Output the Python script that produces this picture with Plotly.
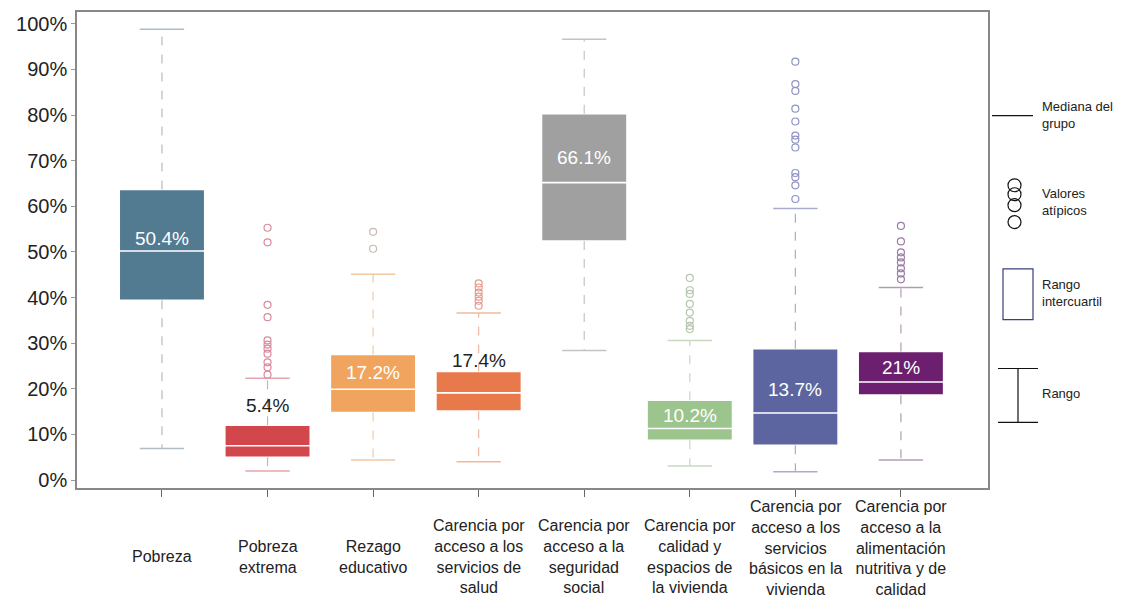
import plotly.graph_objects as go

# categories and box statistics (percent)
categories = [
    "Pobreza",
    "Pobreza<br>extrema",
    "Rezago<br>educativo",
    "Carencia por<br>acceso a los<br>servicios de<br>salud",
    "Carencia por<br>acceso a la<br>seguridad<br>social",
    "Carencia por<br>calidad y<br>espacios de<br>la vivienda",
    "Carencia por<br>acceso a los<br>servicios<br>básicos en la<br>vivienda",
    "Carencia por<br>acceso a la<br>alimentación<br>nutritiva y de<br>calidad",
]
lower_whisker = [6.9, 2.0, 4.4, 4.0, 28.4, 3.1, 1.8, 4.4]
q1 = [39.4, 5.0, 14.8, 15.1, 52.4, 8.7, 7.6, 18.6]
median = [50.2, 7.5, 19.9, 19.1, 65.2, 11.3, 14.7, 21.5]
q3 = [63.7, 12.0, 27.5, 23.8, 80.3, 17.5, 28.8, 28.2]
upper_whisker = [98.8, 22.3, 45.1, 36.6, 96.6, 30.6, 59.5, 42.2]
outliers = [
    [],
    [55.3, 52.1, 38.4, 35.7, 30.6, 29.7, 28.8, 27.7, 25.8, 24.7, 23.1],
    [54.4, 50.7],
    [43.1, 42.2, 41.1, 40.2, 39.3, 38.2],
    [],
    [44.3, 41.6, 40.8, 38.6, 36.7, 34.9, 33.8, 33.1],
    [91.7, 86.8, 85.3, 81.4, 78.6, 75.5, 74.6, 72.9, 67.3, 66.4, 64.6, 61.6],
    [55.7, 52.3, 49.9, 48.8, 47.7, 46.4, 45.3, 44.0],
]
value_labels = ["50.4%", "5.4%", "17.2%", "17.4%", "66.1%", "10.2%", "13.7%", "21%"]
y_ticks = [0, 10, 20, 30, 40, 50, 60, 70, 80, 90, 100]
y_tick_labels = ["0%", "10%", "20%", "30%", "40%", "50%", "60%", "70%", "80%", "90%", "100%"]

# styling
box_colors = ["#527a91", "#d1474c", "#f0a45e", "#e8794a", "#a0a0a0", "#9cc58e", "#5c65a0", "#6b1f6e"]
whisker_colors = ["#aebdc8", "#e3a6ac", "#f2c9a6", "#efb8a0", "#c4c4c4", "#c6d9bf", "#a9acd0", "#b59ab8"]
outlier_colors = ["#aebdc8", "#d98a9c", "#c9b9b4", "#e39a8c", "#c4c4c4", "#b6c7ae", "#8f93c4", "#9a7aa6"]
label_inside = [True, False, True, False, True, True, True, True]
label_shift = [13, 20, 17, 11, 25, 13, 23, 14]
FONT = "Liberation Sans, Arial, sans-serif"
XLAB_SIZE = 16

# the page body has an 8px margin, so the figure sits at (8, 8)
OFF = 8
W, H = 1140 - OFF, 603 - OFF
L, R, T, B = 77 - OFF, 152, 10 - OFF, 115
pw, ph = W - L - R, H - T - B


def px(x):
    # page pixel -> paper x
    return (x - OFF - L) / pw


def py(y):
    # page pixel -> paper y
    return (H - B - (y - OFF)) / ph


fig = go.Figure()

for i in range(len(categories)):
    fig.add_trace(go.Scatter(
        x=[i, i, None, i, i],
        y=[q1[i], lower_whisker[i], None, q3[i], upper_whisker[i]],
        mode="lines", line=dict(color=whisker_colors[i], width=1.2, dash="dash"),
        showlegend=False, hoverinfo="skip"))
    fig.add_trace(go.Scatter(
        x=[i - 0.21, i + 0.21, None, i - 0.21, i + 0.21],
        y=[upper_whisker[i], upper_whisker[i], None, lower_whisker[i], lower_whisker[i]],
        mode="lines", line=dict(color=whisker_colors[i], width=1.5),
        showlegend=False, hoverinfo="skip"))
    fig.add_trace(go.Box(
        x=[i], q1=[q1[i]], median=[median[i]], q3=[q3[i]],
        lowerfence=[q1[i]], upperfence=[q3[i]],
        width=0.81, fillcolor=box_colors[i],
        line=dict(color="white", width=1.6), boxpoints=False,
        showlegend=False, name=categories[i].replace("<br>", " ")))
    if outliers[i]:
        fig.add_trace(go.Scatter(
            x=[i] * len(outliers[i]), y=outliers[i], mode="markers",
            marker=dict(symbol="circle-open", size=7, color=outlier_colors[i], line=dict(width=1.2)),
            showlegend=False, hoverinfo="y"))
    if label_inside[i]:
        fig.add_annotation(x=i, y=median[i], text=value_labels[i], showarrow=False,
                           yshift=label_shift[i], font=dict(color="white", size=19, family=FONT))
    else:
        fig.add_annotation(x=i, y=q3[i], text=value_labels[i], showarrow=False,
                           yshift=label_shift[i], font=dict(color="#222", size=19, family=FONT))
    # category label, centred under the axis but kept inside the page
    n_lines = categories[i].count("<br>") + 1
    half = (n_lines * XLAB_SIZE * 1.3) / 2
    cy = min(557, 600 - half)
    fig.add_annotation(x=i, xref="x", y=py(cy), yref="paper", yanchor="middle",
                       text=categories[i], showarrow=False, align="center",
                       font=dict(color="#222", size=XLAB_SIZE, family=FONT))

# legend drawn on the right
lc = "#111"
ref = dict(xref="paper", yref="paper")
shapes = [
    dict(type="line", x0=px(992), x1=px(1033), y0=py(114), y1=py(114), line=dict(color=lc, width=1.2), **ref),
    dict(type="rect", x0=px(1003), x1=px(1033), y0=py(268), y1=py(319), line=dict(color="#3a3f7a", width=1.2), **ref),
    dict(type="line", x0=px(998), x1=px(1038), y0=py(368), y1=py(368), line=dict(color=lc, width=1.2), **ref),
    dict(type="line", x0=px(998), x1=px(1038), y0=py(422), y1=py(422), line=dict(color=lc, width=1.2), **ref),
    dict(type="line", x0=px(1018), x1=px(1018), y0=py(368), y1=py(422), line=dict(color=lc, width=1.2), **ref),
]
for cy in [184, 193, 204, 221]:
    shapes.append(dict(type="circle", x0=px(1008), x1=px(1021), y0=py(cy - 6.5), y1=py(cy + 6.5),
                       line=dict(color=lc, width=1.2), **ref))
for txt, y in [("Mediana del<br>grupo", 113), ("Valores<br>atípicos", 201),
               ("Rango<br>intercuartil", 292), ("Rango", 393)]:
    fig.add_annotation(x=px(1040), xref="paper", y=py(y), yref="paper", xanchor="left", yanchor="middle",
                       text=txt, showarrow=False, align="left",
                       font=dict(color="#222", size=13, family=FONT))

fig.update_layout(
    width=W, height=H,
    margin=dict(l=L, r=R, t=T, b=B),
    plot_bgcolor="white", paper_bgcolor="white",
    font=dict(family=FONT, color="#222"),
    shapes=shapes,
    xaxis=dict(range=[-0.805, 7.825], tickvals=list(range(len(categories))),
               ticktext=[""] * len(categories), ticks="outside", ticklen=7, tickcolor="#666",
               showgrid=False, zeroline=False, showline=True, linecolor="#888", linewidth=1.5, mirror=True),
    yaxis=dict(range=[-1.75, 102.6], tickvals=y_ticks, ticktext=y_tick_labels,
               ticks="outside", ticklen=4, tickcolor="#999",
               tickfont=dict(size=20, color="#222", family=FONT),
               showgrid=False, zeroline=False, showline=True, linecolor="#888", linewidth=1.5, mirror=True),
)

fig.write_html("out.html")
